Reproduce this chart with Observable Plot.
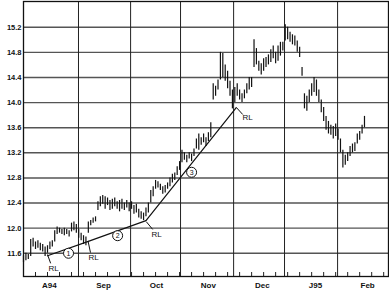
<!DOCTYPE html>
<html><head><meta charset="utf-8">
<script src="https://cdn.jsdelivr.net/npm/d3@7"></script>
<script src="https://cdn.jsdelivr.net/npm/@observablehq/plot@0.6"></script>
<style>body{margin:0;background:#fff}</style>
</head><body><div id="chart"></div>
<script>
// daily bars (index = trading day from 1 Aug 1994)
const lows = [11.45,11.48,11.50,11.55,11.70,11.66,11.68,11.64,11.62,11.55,
11.60,11.66,11.70,11.78,11.90,11.92,11.90,11.88,11.90,11.86,
11.94,11.96,11.92,11.84,11.80,11.74,11.72,11.92,12.04,12.08,
12.10,12.28,12.34,12.38,12.30,12.36,12.28,12.30,12.34,12.30,
12.26,12.30,12.28,12.32,12.26,12.30,12.22,12.24,12.16,12.14,
12.12,12.18,12.24,12.40,12.50,12.62,12.64,12.60,12.54,12.56,
12.62,12.66,12.72,12.76,12.84,12.92,13.04,13.08,13.04,13.10,
13.06,13.14,13.26,13.24,13.32,13.36,13.30,13.38,13.44,14.04,
14.10,14.20,14.36,14.40,14.34,14.22,14.10,13.90,14.00,14.10,
14.04,14.00,14.06,14.14,14.20,14.24,14.56,14.60,14.50,14.44,
14.50,14.56,14.60,14.64,14.70,14.62,14.66,14.74,14.82,14.98,
15.00,14.96,14.92,14.90,14.80,14.72,14.42,13.90,13.86,14.00,
14.10,14.16,14.10,14.00,13.84,13.70,13.56,13.50,13.48,13.42,
13.46,13.40,13.20,12.96,13.00,13.06,13.14,13.20,13.22,13.34,
13.40,13.50,13.60];
const highs = [11.56,11.60,11.58,11.82,11.84,11.78,11.80,11.76,11.74,11.70,
11.72,11.78,11.80,11.96,12.02,12.00,11.98,12.00,11.98,11.96,
12.08,12.10,12.06,11.98,11.92,11.88,11.86,12.10,12.12,12.16,
12.18,12.42,12.50,12.52,12.50,12.48,12.44,12.46,12.48,12.42,
12.44,12.46,12.40,12.44,12.40,12.42,12.36,12.38,12.30,12.26,
12.24,12.32,12.40,12.60,12.66,12.76,12.74,12.70,12.66,12.68,
12.72,12.80,12.86,12.88,12.98,13.06,13.24,13.20,13.16,13.20,
13.18,13.26,13.42,13.50,13.44,13.50,13.44,13.52,13.68,14.30,
14.26,14.36,14.80,14.78,14.60,14.50,14.34,14.20,14.24,14.30,
14.20,14.14,14.20,14.30,14.40,14.40,15.00,14.86,14.66,14.62,
14.70,14.72,14.76,14.84,14.90,14.80,14.90,14.96,14.96,15.24,
15.20,15.12,15.08,15.06,14.98,14.88,14.56,14.14,14.10,14.20,
14.30,14.40,14.36,14.20,14.04,13.92,13.78,13.70,13.64,13.62,
13.66,13.58,13.42,13.24,13.16,13.20,13.30,13.34,13.36,13.50,
13.54,13.64,13.78];

const yTicks = [11.6,12.0,12.4,12.8,13.2,13.6,14.0,14.4,14.8,15.2];
const monthLabels = ["A94","Sep","Oct","Nov","Dec","J95","Feb"];
const monthLabelPos = [10.8,33.3,55.4,77.0,99.5,121.6,143.3];
const monthBounds = [22.9,44.6,65.4,87.5,108.7,130.8];
const weekTicks = d3.range(0,152,5);

// trendlines (index, price)
const trend1 = [[10,11.56],[27,11.79]];
const trend2 = [[27,11.79],[51,12.12]];
const trend3 = [[51,12.12],[88.6,13.92]];

// RL annotations: label position and arrow target
const rlLabelX = [12.5,29.2,55.4,93.3];
const rlLabelY = [11.36,11.53,11.90,13.76];
const rlFromX = [11.3,27.9,53.8,91.3];
const rlFromY = [11.44,11.61,11.98,13.81];
const rlToX = [10,26.9,51.2,88.7];
const rlToY = [11.58,11.79,12.10,13.92];

// circled segment numbers
const segNums = ["1","2","3"];
const segX = [18.75,39.2,70];
const segY = [11.60,11.88,12.89];

const bars = highs.map((h,i)=>({i, high:h, low:lows[i]}));
const rl = rlLabelX.map((x,i)=>({x, y:rlLabelY[i], fx:rlFromX[i], fy:rlFromY[i], tx:rlToX[i], ty:rlToY[i]}));
const segs = segNums.map((t,i)=>({t, x:segX[i], y:segY[i]}));

const chart = Plot.plot({
  width:389, height:294,
  marginLeft:23, marginRight:1, marginTop:1, marginBottom:18,
  x:{domain:[0,152], axis:null},
  y:{domain:[11.23,15.61], axis:null},
  style:{fontFamily:"'Liberation Sans', Arial, sans-serif", background:"#fff", color:"#111"},
  marks:[
    Plot.ruleY(yTicks,{stroke:"#555", strokeWidth:1.4}),
    Plot.ruleX(monthBounds,{stroke:"#222", strokeWidth:1}),
    Plot.ruleX(weekTicks,{insetTop:271, stroke:"#222", strokeWidth:1}),
    Plot.frame({stroke:"#111", strokeWidth:1.3}),
    Plot.axisY({ticks:yTicks, tickSize:0, tickPadding:2, tickFormat:d=>d.toFixed(1), fontWeight:"bold", fontSize:7.5}),
    Plot.text(monthLabels,{x:(d,i)=>monthLabelPos[i], text:d=>d, frameAnchor:"bottom", dy:11, fontWeight:"bold", fontSize:8}),
    Plot.ruleX(bars,{x:"i", y1:"low", y2:"high", stroke:"#111", strokeWidth:1.2}),
    Plot.line(trend1,{x:d=>d[0], y:d=>d[1], stroke:"#111", strokeWidth:1.2}),
    Plot.line(trend2,{x:d=>d[0], y:d=>d[1], stroke:"#111", strokeWidth:1.2}),
    Plot.line(trend3,{x:d=>d[0], y:d=>d[1], stroke:"#111", strokeWidth:1.2}),
    Plot.link(rl,{x1:"fx", y1:"fy", x2:"tx", y2:"ty", stroke:"#111", strokeWidth:1}),
    Plot.text(rl,{x:"x", y:"y", text:()=>"RL", fontSize:8, fill:"#111"}),
    Plot.dot(segs,{x:"x", y:"y", r:5, fill:"#fff", stroke:"#111", strokeWidth:1}),
    Plot.text(segs,{x:"x", y:"y", text:"t", fontSize:7, fill:"#111"})
  ]
});
document.getElementById("chart").appendChild(chart);
</script>
</body></html>
